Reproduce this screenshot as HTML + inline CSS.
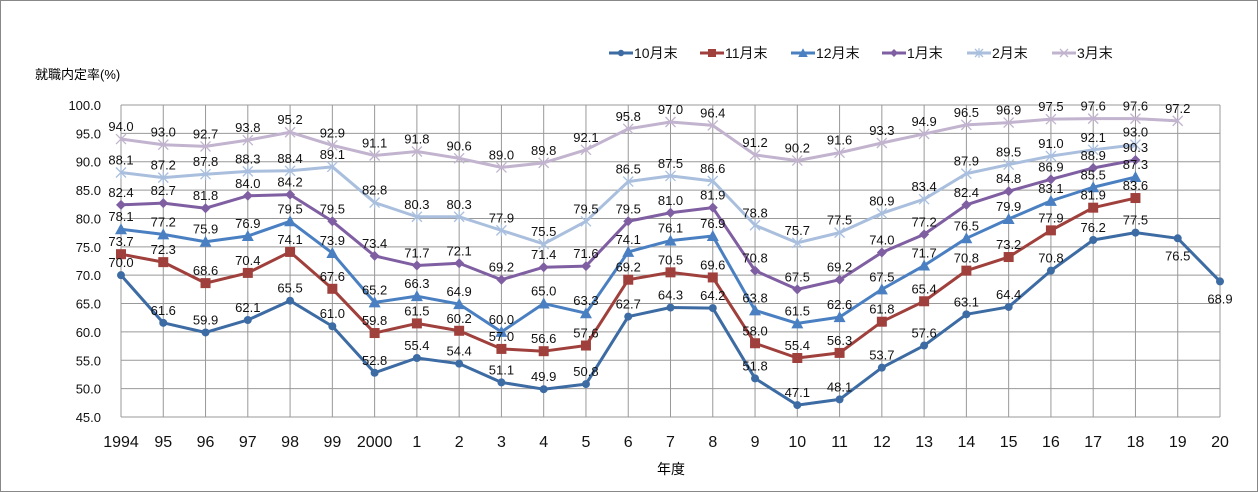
<!DOCTYPE html>
<html><head><meta charset="utf-8"><style>
body{margin:0;background:#fff}
svg{display:block;font-family:"Liberation Sans","Noto Sans CJK JP",sans-serif}
</style></head><body>
<svg id="c" width="1258" height="492">
<rect x="0.5" y="0.5" width="1257" height="491" fill="#fff" stroke="#888"/>
<text x="35" y="79" font-size="13">就職内定率(%)</text>
<text x="671" y="474" font-size="14" text-anchor="middle">年度</text>
<g id="grid"></g><g id="series"></g><g id="legend"></g>
</svg>
<script>
const categories=["1994","95","96","97","98","99","2000","1","2","3","4","5","6","7","8","9","10","11","12","13","14","15","16","17","18","19","20"];
const yTicks=[45,50,55,60,65,70,75,80,85,90,95,100];
const seriesNames=["10月末","11月末","12月末","1月末","2月末","3月末"];
const oct=[70.0,61.6,59.9,62.1,65.5,61.0,52.8,55.4,54.4,51.1,49.9,50.8,62.7,64.3,64.2,51.8,47.1,48.1,53.7,57.6,63.1,64.4,70.8,76.2,77.5,76.5,68.9];
const nov=[73.7,72.3,68.6,70.4,74.1,67.6,59.8,61.5,60.2,57.0,56.6,57.6,69.2,70.5,69.6,58.0,55.4,56.3,61.8,65.4,70.8,73.2,77.9,81.9,83.6];
const dec=[78.1,77.2,75.9,76.9,79.5,73.9,65.2,66.3,64.9,60.0,65.0,63.3,74.1,76.1,76.9,63.8,61.5,62.6,67.5,71.7,76.5,79.9,83.1,85.5,87.3];
const jan=[82.4,82.7,81.8,84.0,84.2,79.5,73.4,71.7,72.1,69.2,71.4,71.6,79.5,81.0,81.9,70.8,67.5,69.2,74.0,77.2,82.4,84.8,86.9,88.9,90.3];
const feb=[88.1,87.2,87.8,88.3,88.4,89.1,82.8,80.3,80.3,77.9,75.5,79.5,86.5,87.5,86.6,78.8,75.7,77.5,80.9,83.4,87.9,89.5,91.0,92.1,93.0];
const mar=[94.0,93.0,92.7,93.8,95.2,92.9,91.1,91.8,90.6,89.0,89.8,92.1,95.8,97.0,96.4,91.2,90.2,91.6,93.3,94.9,96.5,96.9,97.5,97.6,97.6,97.2];
const NS="http://www.w3.org/2000/svg";
const X0=121,X1=1220,Y0=417,Y1=105,YMIN=45,YMAX=100;
const x=i=>X0+i*(X1-X0)/(categories.length-1);
const y=v=>Y0-(v-YMIN)/(YMAX-YMIN)*(Y0-Y1);
function mk(tag,attrs,parent){const e=document.createElementNS(NS,tag);for(const k in attrs)e.setAttribute(k,attrs[k]);parent.appendChild(e);return e;}
const grid=document.getElementById('grid'),ser=document.getElementById('series'),leg=document.getElementById('legend');
yTicks.forEach(t=>{
 const l=mk('line',{x1:X0,x2:X1,y1:y(t),y2:y(t),stroke:'#999','stroke-width':1},grid);
 
 
 const tx=mk('text',{x:X0-20,y:y(t)+5,'font-size':13,'text-anchor':'end',fill:'#111'},grid);
 tx.textContent=t.toFixed(1);
 
 
});
categories.forEach((c,i)=>{
 const l=mk('line',{x1:x(i),x2:x(i),y1:Y1,y2:Y0,stroke:'#999','stroke-width':1},grid);
 
 
 const tx=mk('text',{x:x(i),y:Y0+30,'font-size':16,'text-anchor':'middle',fill:'#111'},grid);
 tx.textContent=c;
 
 
});
const cols=["#3d6ba3","#a0403c","#4a80c2","#7f5fa2","#a9bfdd","#c2b3cf"];
const data=[oct,nov,dec,jan,feb,mar];
function marker(k,cx,cy,g,s){
 const c=cols[k];let e;
 if(k===0)e=mk('circle',{cx,cy,r:4*s,fill:c},g);
 else if(k===1)e=mk('rect',{x:cx-5*s,y:cy-5*s,width:10*s,height:10*s,fill:c},g);
 else if(k===2)e=mk('path',{d:`M${cx} ${cy-6*s}L${cx+6*s} ${cy+5*s}L${cx-6*s} ${cy+5*s}Z`,fill:c},g);
 else if(k===3)e=mk('path',{d:`M${cx} ${cy-5*s}L${cx+5*s} ${cy}L${cx} ${cy+5*s}L${cx-5*s} ${cy}Z`,fill:c},g);
 else{e=mk('path',{d:`M${cx-5*s} ${cy-5*s}L${cx+5*s} ${cy+5*s}M${cx-5*s} ${cy+5*s}L${cx+5*s} ${cy-5*s}`+(k===4?`M${cx} ${cy-6*s}L${cx} ${cy+6*s}`:''),stroke:c,'stroke-width':1.3,fill:'none'},g);}
 return e;
}
[5,4,3,2,1,0].forEach(k=>{
 const d=data[k];const g=mk('g',{},ser);
 
 
 const p=mk('polyline',{points:d.map((v,i)=>x(i)+','+y(v)).join(' '),fill:'none',stroke:cols[k],'stroke-width':3,'stroke-linejoin':'round'},g);
 
 
 d.forEach((v,i)=>{
  const m=marker(k,x(i),y(v),g,1);
  
  
  const below=(k===0&&i>=25);
  const t=mk('text',{x:x(i),y:below?y(v)+22:y(v)-8,'font-size':13,'text-anchor':'middle',fill:'#111'},g);
  t.textContent=v.toFixed(1);
  
  
 });
});
const lx=[613,749,886,1023,1149,1276-100];
seriesNames.forEach((n,k)=>{
 const g=mk('g',{},leg);
 
 
 const bx=[609,700,791,882,967,1052][k];
 mk('line',{x1:bx,x2:bx+24,y1:53,y2:53,stroke:cols[k],'stroke-width':3},g);
 marker(k,bx+12,53,g,0.8);
 const t=mk('text',{x:bx+25,y:58,'font-size':14,fill:'#111'},g);
 t.textContent=n;
});
</script>
</body></html>
